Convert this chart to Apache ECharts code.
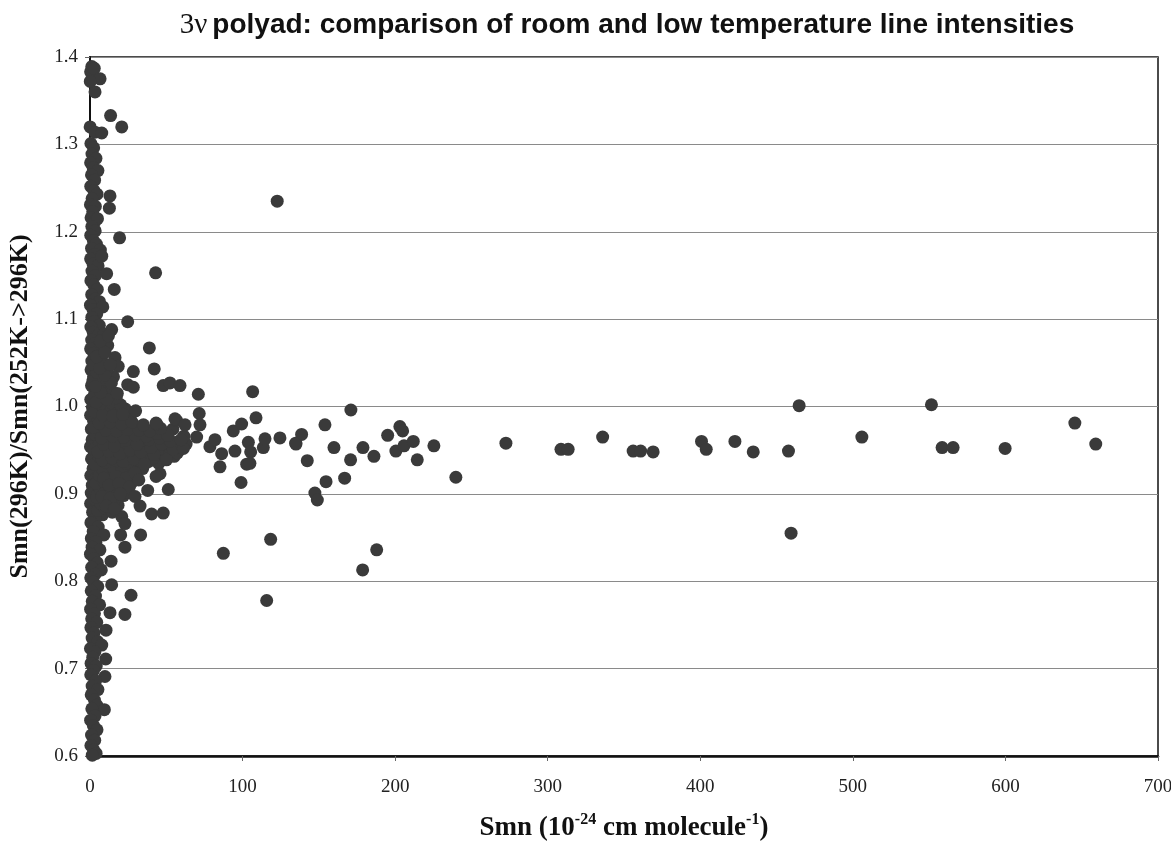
<!DOCTYPE html>
<html>
<head>
<meta charset="utf-8">
<script src="https://cdn.jsdelivr.net/npm/echarts@6/dist/echarts.min.js"></script>
<style>
html,body{margin:0;padding:0;background:#fff;}
#chart{width:1171px;height:843px;}
</style>
</head>
<body>
<div id="chart"></div>
<script>
// ---- Data (Smn in 1e-24 cm/molecule, ratio) ----
const xTicks = [0, 100, 200, 300, 400, 500, 600, 700];
const yTicks = [0.6, 0.7, 0.8, 0.9, 1.0, 1.1, 1.2, 1.3, 1.4];

const columnPoints = [
  [0.4,1.383],[1.2,1.389],[2.8,1.387],[6.6,1.375],[3.3,1.360],[0.2,1.372],[13.5,1.333],[20.8,1.320],[0.1,1.320],[3.3,1.314],[7.7,1.313],[13.1,1.241],[12.7,1.227],[19.4,1.193],
  [0.6,1.301],[2.4,1.296],[1.3,1.289],[3.9,1.284],[0.4,1.279],[2.1,1.273],[5.2,1.270],[1.0,1.265],[3.0,1.259],[0.5,1.252],[2.6,1.247],[4.6,1.243],[1.4,1.238],[0.3,1.231],[3.5,1.229],[1.8,1.223],[0.7,1.216],[2.9,1.211],[4.9,1.215],[1.2,1.206],[3.4,1.201],
  [0.5,1.196],[2.2,1.190],[4.2,1.186],[1.0,1.181],[6.8,1.179],[3.1,1.174],[0.4,1.169],[2.0,1.163],[5.3,1.161],[1.3,1.155],[3.6,1.150],[0.6,1.144],[10.9,1.152],[7.7,1.172],[2.5,1.139],[4.8,1.134],[15.9,1.134],[1.1,1.128],[3.3,1.123],[6.2,1.120],[0.3,1.116],[2.0,1.111],[8.4,1.114],[4.4,1.106],[1.2,1.102],
  [3.0,1.097],[6.1,1.093],[0.6,1.091],[24.7,1.097],[14.2,1.088],[2.1,1.085],[4.9,1.081],[9.3,1.083],[1.1,1.076],[3.4,1.072],[7.2,1.069],[0.4,1.066],[11.6,1.070],[2.5,1.061],[5.6,1.058],[16.4,1.056],[1.2,1.052],[8.3,1.050],[3.8,1.047],[18.5,1.046],[0.7,1.042],[6.0,1.038],[28.4,1.040],[2.3,1.034],[10.8,1.032],[4.4,1.029],[24.7,1.025],[28.4,1.022],[1.0,1.024],[7.5,1.020],[14.3,1.017],[3.1,1.015],[0.5,1.008],[5.7,1.006],[9.4,1.001],
  [1.6,0.999],[4.0,0.996],[0.4,0.990],[7.3,0.989],[2.4,0.983],[5.1,0.980],[0.9,0.974],[3.5,0.971],[6.6,0.967],[1.4,0.962],[4.2,0.958],[0.3,0.954],[2.8,0.947],[7.9,0.944],[1.0,0.940],[4.7,0.936],[2.0,0.929],[6.2,0.925],[0.5,0.921],[3.4,0.917],[1.5,0.910],[5.3,0.907],[0.8,0.901],
  [2.9,0.897],[6.0,0.893],[0.4,0.889],[4.1,0.884],[1.7,0.879],[8.2,0.876],[3.2,0.871],[0.6,0.867],[5.4,0.862],[2.1,0.857],[9.1,0.853],[0.9,0.849],[3.9,0.845],[1.4,0.839],[6.5,0.836],[0.3,0.831],[2.7,0.826],[4.8,0.821],[1.1,0.816],[7.4,0.813],[3.3,0.808],[0.5,0.804],[14.2,0.796],[20.1,0.853],[20.8,0.874],[22.9,0.866],[22.9,0.839],[13.8,0.823],
  [2.2,0.799],[5.1,0.794],[0.8,0.789],[3.6,0.783],[1.5,0.777],[6.3,0.773],[0.4,0.768],[2.9,0.763],[13.1,0.764],[1.1,0.757],[4.4,0.753],[0.6,0.747],[10.5,0.744],[2.6,0.741],[1.4,0.735],[5.0,0.731],[7.7,0.727],[0.3,0.723],[3.2,0.719],[1.8,0.713],[10.3,0.711],[0.7,0.706],[4.1,0.703],
  [2.3,0.698],[9.8,0.691],[0.5,0.693],[3.7,0.686],[1.4,0.680],[5.2,0.676],[0.8,0.670],[2.9,0.664],[4.5,0.658],[9.4,0.653],[1.2,0.654],[3.3,0.646],[0.4,0.641],[2.2,0.635],[4.6,0.630],[1.0,0.624],[3.1,0.618],[0.6,0.612],[2.4,0.607],[4.0,0.603],[1.5,0.601],
  [26.9,0.784],[22.9,0.762]
];

const wedgePoints = [
  [5.2,0.881],[9.8,0.884],[14.6,0.879],[7.1,0.889],[12.3,0.892],[18.4,0.887],[4.3,0.896],[10.5,0.899],[16.2,0.894],[22.0,0.898],
  [6.8,0.905],[13.7,0.903],[19.5,0.908],[25.1,0.902],[3.9,0.912],[9.2,0.914],[15.8,0.911],[21.7,0.916],[27.4,0.913],
  [6.1,0.921],[12.0,0.923],[18.3,0.919],[24.6,0.925],[30.2,0.921],[8.4,0.928],[14.9,0.931],[20.8,0.927],[27.9,0.932],[34.5,0.929],
  [3.1,0.934],[10.2,0.936],[17.6,0.938],[24.3,0.935],[31.5,0.939],[38.2,0.937],[45.0,0.935],
  [5.8,0.943],[13.1,0.945],[20.4,0.942],[27.2,0.946],[34.0,0.944],[41.3,0.941],[48.6,0.945],[55.2,0.943],
  [2.6,0.951],[9.5,0.953],[16.7,0.950],[23.9,0.955],[30.8,0.952],[37.6,0.956],[44.2,0.951],[51.7,0.954],[58.5,0.950],
  [6.3,0.960],[13.8,0.962],[21.0,0.959],[28.3,0.963],[35.5,0.961],[42.9,0.958],[49.4,0.962],[56.8,0.959],[63.0,0.957],
  [3.7,0.968],[11.2,0.970],[18.5,0.967],[25.9,0.971],[33.1,0.969],[40.4,0.966],[47.7,0.970],[54.3,0.974],[61.5,0.966],
  [2.2,0.976],[8.7,0.978],[15.3,0.975],[22.6,0.979],[29.8,0.977],[5.4,0.985],[12.1,0.987],[19.0,0.984],[26.3,0.988],
  [3.0,0.994],[9.6,0.996],[16.4,0.993],[23.2,0.997],[6.7,1.003],[13.5,1.005],[20.1,1.002],[2.8,1.011],[10.0,1.013],[17.2,1.010],
  [5.9,1.020],[12.8,1.022],[1.9,1.029],[8.9,1.031],[15.4,1.034],[4.6,1.039],[11.2,1.042],[2.5,1.048],[7.8,1.051],
  [8.0,0.939],[14.5,0.941],[21.8,0.937],[28.9,0.940],[35.7,0.934],[42.0,0.945],[50.1,0.939],[57.3,0.947],
  [5.0,0.948],[12.4,0.949],[19.6,0.946],[26.5,0.950],[33.4,0.948],[40.0,0.953],[47.2,0.957],[54.6,0.951],[61.2,0.952],
  [9.0,0.957],[16.1,0.955],[23.3,0.961],[31.0,0.957],[38.7,0.962],[45.6,0.964],[52.8,0.960],[59.7,0.962],
  [7.5,0.964],[14.9,0.966],[22.1,0.965],[29.7,0.967],[37.0,0.966],[44.1,0.969],[51.0,0.967],
  [10.3,0.973],[17.5,0.972],[24.8,0.974],[32.2,0.973],[39.1,0.972],[46.3,0.975],
  [6.1,0.981],[13.4,0.982],[20.7,0.980],[27.6,0.982],[35.0,0.979],
  [8.2,0.990],[15.0,0.989],[21.5,0.991],
  [9.1,0.918],[16.9,0.920],[23.5,0.918],[29.4,0.924],[12.5,0.910],[19.1,0.912],[25.8,0.908],[32.0,0.916],
  [7.9,0.897],[13.2,0.895],[19.8,0.900],[10.7,0.886],[16.0,0.883],
  [4.0,1.005],[11.0,1.008],[17.9,1.015],[7.0,1.016],[14.0,1.027],[3.6,1.023],[9.7,1.036],[6.3,1.044],[13.3,1.048],[4.4,1.057],[9.9,1.062],[6.8,1.075],[12.1,1.081]
];

const scatterPoints = [
  [29.9,0.995],[29.5,0.897],[37.8,0.904],[32.8,0.886],[33.2,0.853],[40.4,0.877],[48.0,0.878],[51.3,0.905],[45.9,0.923],[43.3,0.920],
  [43.7,0.980],[56.8,0.984],[55.7,0.986],[62.3,0.979],[43.3,0.981],[71.6,0.992],[72.1,0.979],[71.0,1.014],[38.9,1.067],[42.1,1.043],
  [48.0,1.024],[52.4,1.027],[59.0,1.024],[43.0,1.153],[69.9,0.965],[78.6,0.954],[81.9,0.962],[86.3,0.946],[85.2,0.931],[87.4,0.832],
  [99.0,0.913],[102.7,0.934],[95.0,0.949],[93.9,0.972],[99.4,0.980],[108.8,0.987],[106.6,1.017],[103.8,0.959],[105.3,0.948],[104.8,0.935],
  [113.6,0.953],[114.7,0.963],[124.5,0.964],[118.4,0.848],[115.8,0.778],[122.7,1.235],[134.8,0.958],[138.7,0.968],[135.0,0.957],
  [142.4,0.938],[147.4,0.901],[149.0,0.893],[154.0,0.979],[154.7,0.914],[159.9,0.953],[166.9,0.918],[170.8,0.939],[171.0,0.996],
  [178.7,0.813],[178.9,0.953],[186.1,0.943],[187.9,0.836],[195.1,0.967],[200.5,0.949],[203.1,0.977],[204.9,0.972],[205.8,0.955],
  [211.9,0.960],[214.5,0.939],[225.4,0.955],[239.8,0.919],[272.6,0.958],[308.7,0.951],[313.4,0.951],[336.0,0.965],[356.0,0.949],
  [360.9,0.949],[369.1,0.948],[400.8,0.960],[403.9,0.951],[422.7,0.960],[434.7,0.948],[457.8,0.949],[459.5,0.855],[464.8,1.001],
  [505.9,0.965],[551.5,1.002],[558.5,0.953],[565.7,0.953],[599.8,0.952],[645.5,0.981],[659.2,0.957]
];

const allPoints = columnPoints.concat(wedgePoints, scatterPoints);

const chart = echarts.init(document.getElementById('chart'));
const serif = '"Liberation Serif", "DejaVu Serif", serif';
const sans = '"Liberation Sans", Arial, sans-serif';

chart.setOption({
  animation: false,
  backgroundColor: '#ffffff',
  title: {
    text: '{a|3ν} {b|polyad: comparison of room and low temperature line intensities}',
    left: 622,
    textAlign: 'center',
    top: 6,
    textStyle: {
      rich: {
        a: { fontFamily: serif, fontSize: 29, color: '#111', fontWeight: 'normal' },
        b: { fontFamily: sans, fontSize: 28, color: '#111', fontWeight: 'bold' }
      }
    }
  },
  grid: {
    left: 90, right: 13, top: 57, bottom: 87,
    outerBoundsMode: 'none',
    containLabel: false,
    show: true, borderColor: '#111', borderWidth: 1.5, backgroundColor: 'transparent'
  },
  xAxis: {
    type: 'value',
    min: 0, max: 700, interval: 100,
    axisLine: { show: true, onZero: false, lineStyle: { color: '#111', width: 2.5 } },
    axisTick: { show: true, inside: false, length: 5, lineStyle: { color: '#666' } },
    splitLine: { show: false },
    axisLabel: { fontFamily: serif, fontSize: 19, color: '#222', margin: 22 },
    name: '{m|Smn (10}{s|-24}{m| cm molecule}{s|-1}{m|)}',
    nameLocation: 'middle',
    nameGap: 56,
    nameTextStyle: {
      rich: {
        m: { fontFamily: serif, fontSize: 27, fontWeight: 'bold', color: '#111', lineHeight: 30, verticalAlign: 'bottom' },
        s: { fontFamily: serif, fontSize: 16, fontWeight: 'bold', color: '#111', lineHeight: 30, verticalAlign: 'top' }
      }
    }
  },
  yAxis: {
    type: 'value',
    min: 0.6, max: 1.4, interval: 0.1,
    axisLine: { show: true, lineStyle: { color: '#111', width: 2 } },
    axisTick: { show: true, inside: false, length: 5, lineStyle: { color: '#666' } },
    splitLine: { show: true, lineStyle: { color: '#8a8a8a', width: 1.2 } },
    axisLabel: { fontFamily: serif, fontSize: 19, color: '#222', margin: 12,
      formatter: function (v) { return v.toFixed(1); } },
    name: 'Smn(296K)/Smn(252K->296K)',
    nameLocation: 'middle',
    nameGap: 57,
    nameTextStyle: { fontFamily: serif, fontSize: 26, fontWeight: 'bold', color: '#111' }
  },
  series: [{
    type: 'scatter',
    data: allPoints,
    symbol: 'circle',
    symbolSize: 13,
    itemStyle: { color: '#3a3a3a', opacity: 1 },
    silent: true
  }]
});
</script>
</body>
</html>
